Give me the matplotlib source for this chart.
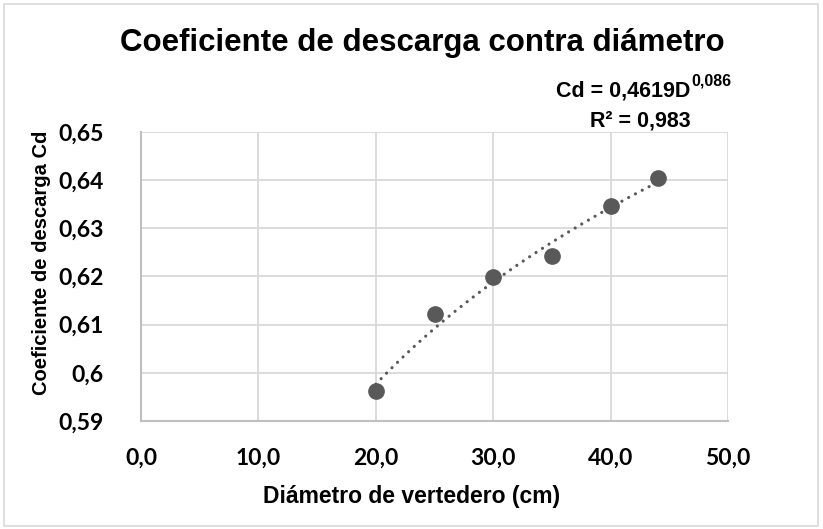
import numpy as np
import matplotlib
matplotlib.use("Agg")
import matplotlib.pyplot as plt
from matplotlib.patches import Rectangle

# Data
diametro = [20, 25, 30, 35, 40, 44]
cd = [0.5962, 0.6122, 0.6199, 0.6242, 0.6346, 0.6405]
coef_a = 0.4619
coef_b = 0.086
r2 = 0.983
x_ticks = [0, 10, 20, 30, 40, 50]
x_ticklabels = ["0,0", "10,0", "20,0", "30,0", "40,0", "50,0"]
y_ticks = [0.59, 0.60, 0.61, 0.62, 0.63, 0.64, 0.65]
y_ticklabels = ["0,59", "0,6", "0,61", "0,62", "0,63", "0,64", "0,65"]

W, H = 823, 529
fig = plt.figure(figsize=(W / 100, H / 100), dpi=100)
fig.patch.set_facecolor("white")

# chart border
fig.add_artist(Rectangle((4 / W, 3 / H), (W - 9) / W, (H - 7) / H,
                         transform=fig.transFigure, fill=False,
                         edgecolor="#d9d9d9", linewidth=1.2))

left, right, top, bottom = 141, 728, 132, 421
ax = fig.add_axes([left / W, 1 - bottom / H, (right - left) / W, (bottom - top) / H])

ax.set_xlim(0, 50)
ax.set_ylim(0.59, 0.65)
ax.set_xticks(x_ticks)
ax.set_xticklabels(x_ticklabels)
ax.set_yticks(y_ticks)
ax.set_yticklabels(y_ticklabels)

for lab in ax.get_xticklabels() + ax.get_yticklabels():
    lab.set_fontfamily(["Lato", "DejaVu Sans"])
    lab.set_fontweight("bold")
    lab.set_fontsize(16.5)
ax.tick_params(axis="both", length=0)
ax.tick_params(axis="x", pad=19)
ax.tick_params(axis="y", pad=27)

ax.grid(True, color="#d9d9d9", linewidth=1.3)
ax.set_axisbelow(True)
for s in ["top", "right"]:
    ax.spines[s].set_visible(False)
for s in ["left", "bottom"]:
    ax.spines[s].set_color("#bfbfbf")
    ax.spines[s].set_linewidth(1.5)

# trendline (power fit)
xf = np.linspace(min(diametro), max(diametro), 200)
yf = coef_a * xf ** coef_b
ax.plot(xf, yf, linestyle=(0, (0.01, 2.4)), color="#595959", linewidth=2.3,
        dash_capstyle="round", zorder=2)

ax.plot(diametro, cd, "o", color="#595959", markersize=11, zorder=3, clip_on=False)

arial = ["Liberation Sans", "DejaVu Sans"]
fig.text(422 / W, 1 - 43 / H, "Coeficiente de descarga contra diámetro",
         ha="center", va="center", fontsize=22.5, fontweight="bold", family=arial)

# equation with superscript
sup = fig.text(731 / W, 1 - 85 / H, "0,086", ha="right", va="baseline",
               fontsize=11.5, fontweight="bold", family=arial)
fig.canvas.draw()
r = fig.canvas.get_renderer()
bb = sup.get_window_extent(r)
fig.text((bb.x0 - 1) / W, 1 - 96 / H, "Cd = 0,4619D",
         ha="right", va="baseline", fontsize=15.5, fontweight="bold", family=arial)
fig.text(640 / W, 1 - 126 / H, "R² = 0,983",
         ha="center", va="baseline", fontsize=15.5, fontweight="bold", family=arial)

fig.text(42 / W, 1 - 263 / H, "Coeficiente de descarga Cd", rotation=90,
         ha="center", va="center", fontsize=14.5, fontweight="bold", family=arial)
fig.text(412 / W, 1 - 497 / H, "Diámetro de vertedero (cm)",
         ha="center", va="center", fontsize=16.5, fontweight="bold", family=arial)

fig.savefig("out.png", dpi=100, facecolor="white")
